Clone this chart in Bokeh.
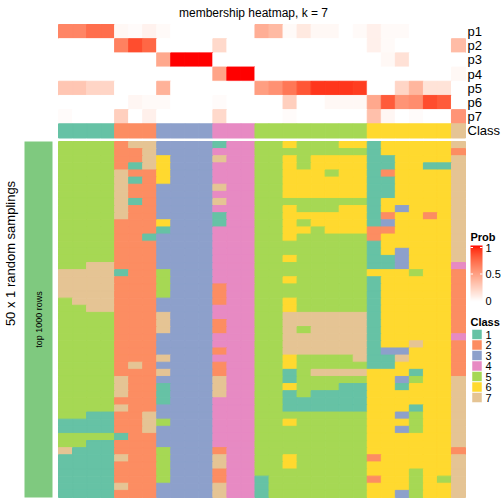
import numpy as np
from bokeh.plotting import figure
from bokeh.models import Range1d, ColumnDataSource, LinearColorMapper
from bokeh.core.properties import value
from bokeh.transform import linear_cmap, factor_cmap
from bokeh.embed import file_html
from bokeh.resources import INLINE

# ---------------- data ----------------
TITLE = "membership heatmap, k = 7"
ROW_TITLE = "50 x 1 random samplings"
BAR_LABEL = "top 1000 rows"
PROB_NAMES = ["p1", "p2", "p3", "p4", "p5", "p6", "p7"]
CLASS_NAMES = ["1", "2", "3", "4", "5", "6", "7"]
CLASS_COLORS = ["#66C2A5", "#FC8D62", "#8DA0CB", "#E78AC3", "#A6D854", "#FFD92F", "#E5C494"]
PROB_TICKS = [0, 0.5, 1]
PROB_TICK_LABELS = ["0", "0.5", "1"]

sample_class = [1, 1, 1, 1, 2, 2, 2, 3, 3, 3, 3, 4, 4, 4, 5, 5, 5, 5, 5, 5, 5, 5, 6, 6, 6, 6, 6, 6, 7]

p1 = [0.62, 0.62, 0.72, 0.72, 0.04, 0.02, 0.07, 0.03, 0, 0, 0, 0, 0, 0, 0.42, 0.36, 0.03, 0.12, 0.04, 0.04, 0, 0.03, 0.08, 0.03, 0.03, 0, 0, 0, 0]
p2 = [0, 0, 0, 0, 0.64, 0.85, 0.75, 0, 0, 0, 0, 0.2, 0, 0, 0, 0, 0, 0, 0, 0, 0, 0, 0.08, 0.03, 0, 0, 0, 0, 0.35]
p3 = [0, 0, 0, 0, 0, 0, 0, 0.45, 1, 1, 1, 0, 0, 0, 0, 0, 0, 0, 0, 0, 0, 0, 0, 0.04, 0.16, 0, 0, 0, 0]
p4 = [0, 0, 0, 0, 0, 0, 0, 0, 0, 0, 0, 0.47, 1, 1, 0, 0, 0, 0, 0, 0, 0, 0, 0, 0, 0, 0, 0, 0, 0.04]
p5 = [0.3, 0.3, 0.22, 0.22, 0, 0, 0, 0.4, 0, 0, 0, 0, 0, 0, 0.5, 0.56, 0.68, 0.82, 0.92, 0.92, 0.92, 0.9, 0, 0, 0.22, 0.38, 0.15, 0.15, 0]
p6 = [0, 0, 0, 0, 0, 0.05, 0.03, 0.03, 0, 0, 0, 0.02, 0, 0, 0, 0, 0.25, 0, 0, 0.04, 0.04, 0.04, 0.45, 0.8, 0.55, 0.58, 0.85, 0.8, 0]
p7 = [0.02, 0, 0, 0, 0.25, 0, 0.08, 0, 0, 0, 0, 0.2, 0, 0, 0, 0, 0.02, 0, 0, 0, 0, 0, 0.33, 0.05, 0, 0.02, 0, 0, 0.55]

# class assigned to each sample (column) in each of 50 random samplings (rows, top to bottom)
sampling_classes = [
    "55552773333144556555661666667",
    "55552273333444555555551666662",
    "55552276333744556566661166667",
    "55552176333444556566661166117",
    "55557226333444556665661266667",
    "55557126333444556666661166667",
    "55557223333744556666661166667",
    "55557223333444556666661166667",
    "55557123333744555555551666667",
    "55557223333444556555661636667",
    "55557223333144556666661266267",
    "55552226333144556566661366667",
    "55552221333444556656662266667",
    "55552213333444556555552666667",
    "55552223333444555555551666667",
    "55552223333444555555551636667",
    "55552223333444556555551136667",
    "55772223333444555555551136664",
    "77771225333444555555556665662",
    "77772225333444556555551666662",
    "77772225333244555555551666662",
    "77772225333244555555551666662",
    "57772223333244556555551666662",
    "55772223333444556555551666662",
    "55552227333444557777771666662",
    "55552227333244557777771666662",
    "55552227333244557577771666662",
    "55552223333444557777771666664",
    "55552223333444557777771667662",
    "55552223333244557777771336662",
    "55552227333444556555571176662",
    "55552723333244556555551166662",
    "55552227333244551577776661662",
    "55557223333744551555556635667",
    "55557221333744556555116616667",
    "55557221333744551511116666667",
    "55552221333444551111116666667",
    "55557223333444551111116661667",
    "55112273333444555555556635667",
    "11112275333444556555556665667",
    "11112273333444555555556635667",
    "55551223333444555555556666667",
    "55112223333444555555556666667",
    "71112225333244555555556666662",
    "11117225333744556555552666667",
    "11112225333744556555556666667",
    "11112225333244555555556665667",
    "11112225333244155555552665657",
    "11117223333744155555556665667",
    "11112223333744155555556635667",
]

# ---------------- layout (page pixels; canvas sits at page 0,0) ----------------
W, H = 504, 504
OFF = 0
HM_L, HM_R = 58, 465
MAIN_TOP, MAIN_BOT = 141, 497
TOP_TOP, CLASS_BOT = 24, 137.5
NCOL = len(sample_class)
NROW = len(sampling_classes)
sx = (HM_R - HM_L) / NCOL
sy = (MAIN_BOT - MAIN_TOP) / NROW
TH = (CLASS_BOT - TOP_TOP) / 8.0


def DX(px):
    return (px - HM_L) / sx


def DY(py):
    return (MAIN_BOT - py) / sy


FONT = value("Liberation Sans")


# ---------------- LAB white->red palette ----------------
def _lin(c):
    c = c / 255.0
    return c / 12.92 if c <= 0.04045 else ((c + 0.055) / 1.055) ** 2.4


def _unlin(c):
    c = 12.92 * c if c <= 0.0031308 else 1.055 * c ** (1 / 2.4) - 0.055
    return int(round(min(max(c, 0), 1) * 255))


XN, YN, ZN = 0.95047, 1.0, 1.08883
D = 6 / 29


def _f(t):
    return t ** (1 / 3) if t > D ** 3 else t / (3 * D * D) + 4 / 29


def _finv(t):
    return t ** 3 if t > D else 3 * D * D * (t - 4 / 29)


def rgb2lab(rgb):
    r, g, b = [_lin(c) for c in rgb]
    X = 0.4124564 * r + 0.3575761 * g + 0.1804375 * b
    Y = 0.2126729 * r + 0.7151522 * g + 0.0721750 * b
    Z = 0.0193339 * r + 0.1191920 * g + 0.9503041 * b
    fx, fy, fz = _f(X / XN), _f(Y / YN), _f(Z / ZN)
    return 116 * fy - 16, 500 * (fx - fy), 200 * (fy - fz)


def lab2hex(L, a, b):
    fy = (L + 16) / 116
    fx = fy + a / 500
    fz = fy - b / 200
    X, Y, Z = XN * _finv(fx), YN * _finv(fy), ZN * _finv(fz)
    r = 3.2404542 * X - 1.5371385 * Y - 0.4985314 * Z
    g = -0.9692660 * X + 1.8760108 * Y + 0.0415560 * Z
    bb = 0.0556434 * X - 0.2040259 * Y + 1.0572252 * Z
    return "#%02x%02x%02x" % (_unlin(r), _unlin(g), _unlin(bb))


lw, lr = rgb2lab((255, 255, 255)), rgb2lab((255, 0, 0))
PALETTE = [lab2hex(*[lw[i] + (lr[i] - lw[i]) * t for i in range(3)]) for t in np.linspace(0, 1, 256)]

# ---------------- figure ----------------
p = figure(width=W, height=H, output_backend="svg", toolbar_location=None,
           x_range=Range1d(DX(OFF), DX(OFF + W)), y_range=Range1d(DY(OFF + H), DY(OFF)),
           x_axis_location=None, y_axis_location=None, min_border=0)
p.grid.visible = False
p.outline_line_color = None
p.background_fill_color = "white"
p.border_fill_color = "white"

# main heatmap
mx, my, mc = [], [], []
for r, row in enumerate(sampling_classes):
    for c, ch in enumerate(row):
        mx.append(c + 0.5)
        my.append(NROW - r - 0.5)
        mc.append(ch)
msrc = ColumnDataSource(dict(x=mx, y=my, cls=mc))
cmap = factor_cmap("cls", CLASS_COLORS, CLASS_NAMES)
p.rect(x="x", y="y", width=1, height=1, source=msrc, fill_color=cmap, line_color=cmap, line_width=1)

# membership rows
probs = [p1, p2, p3, p4, p5, p6, p7]
tx, ty, tv = [], [], []
for k, row in enumerate(probs):
    yc = DY(TOP_TOP + (k + 0.5) * TH)
    for c, v in enumerate(row):
        tx.append(c + 0.5)
        ty.append(yc)
        tv.append(v)
tsrc = ColumnDataSource(dict(x=tx, y=ty, v=tv))
pmap = linear_cmap("v", PALETTE, 0, 1)
p.rect(x="x", y="y", width=1, height=TH / sy, source=tsrc, fill_color=pmap, line_color=pmap, line_width=1)

# class annotation row
yc_class = DY(TOP_TOP + 7.5 * TH)
csrc = ColumnDataSource(dict(x=[c + 0.5 for c in range(NCOL)], y=[yc_class] * NCOL,
                             cls=[str(v) for v in sample_class]))
p.rect(x="x", y="y", width=1, height=TH / sy, source=csrc, fill_color=cmap, line_color=cmap, line_width=1)

# row labels
lab_y = [DY(TOP_TOP + (k + 0.5) * TH) for k in range(8)]
p.text(x=[DX(467)] * 8, y=lab_y, text=PROB_NAMES + ["Class"], text_font=FONT, text_font_size="13px",
       text_align="left", text_baseline="middle", text_color="black")

# title
p.text(x=[DX(253)], y=[DY(12)], text=[TITLE], text_font=FONT, text_font_size="12px",
       text_align="center", text_baseline="middle", text_color="black")

# left annotation bar
p.rect(x=[DX(38)], y=[NROW / 2], width=28 / sx, height=NROW, fill_color="#7FC97F", line_color=None)
p.text(x=[DX(38)], y=[NROW / 2], text=[BAR_LABEL], angle=np.pi / 2, text_font=FONT, text_font_size="9px",
       text_align="center", text_baseline="middle", text_color="black")
p.text(x=[DX(10)], y=[DY(253)], text=[ROW_TITLE], angle=np.pi / 2, text_font=FONT, text_font_size="13px",
       text_align="center", text_baseline="middle", text_color="black")

# Prob legend
BAR_X, BAR_W, BAR_TOP, BAR_BOT = 470, 12, 245, 301
p.text(x=[DX(BAR_X)], y=[DY(236.5)], text=["Prob"], text_font=FONT, text_font_size="11px",
       text_font_style="bold", text_align="left", text_baseline="middle", text_color="black")
mapper = LinearColorMapper(palette=PALETTE, low=0, high=1)
p.image(image=[np.linspace(0, 1, 200).reshape(200, 1)], x=DX(BAR_X), y=DY(BAR_BOT),
        dw=BAR_W / sx, dh=(BAR_BOT - BAR_TOP) / sy, color_mapper=mapper)
tick_y = [DY(BAR_BOT - 1 - t * (BAR_BOT - BAR_TOP - 3)) for t in PROB_TICKS]
for t, yy in zip(PROB_TICKS, tick_y):
    if t > 0:
        p.segment(x0=[DX(BAR_X)], y0=[yy], x1=[DX(BAR_X + 2.5)], y1=[yy], line_color="white", line_width=1)
        p.segment(x0=[DX(BAR_X + BAR_W - 2.5)], y0=[yy], x1=[DX(BAR_X + BAR_W)], y1=[yy], line_color="white", line_width=1)
p.text(x=[DX(BAR_X + BAR_W + 3)] * 3, y=tick_y, text=PROB_TICK_LABELS, text_font=FONT, text_font_size="11px",
       text_align="left", text_baseline="middle", text_color="black")

# Class legend
p.text(x=[DX(BAR_X)], y=[DY(321)], text=["Class"], text_font=FONT, text_font_size="11px",
       text_font_style="bold", text_align="left", text_baseline="middle", text_color="black")
ly = [DY(334 + 10.5 * i) for i in range(7)]
p.rect(x=[DX(476.5)] * 7, y=ly, width=10 / sx, height=10 / sy, fill_color=CLASS_COLORS, line_color="white",
       line_width=0.5)
p.text(x=[DX(485)] * 7, y=ly, text=CLASS_NAMES, text_font=FONT, text_font_size="11px",
       text_align="left", text_baseline="middle", text_color="black")

open("out.html", "w").write(file_html(p, INLINE, title=TITLE))
